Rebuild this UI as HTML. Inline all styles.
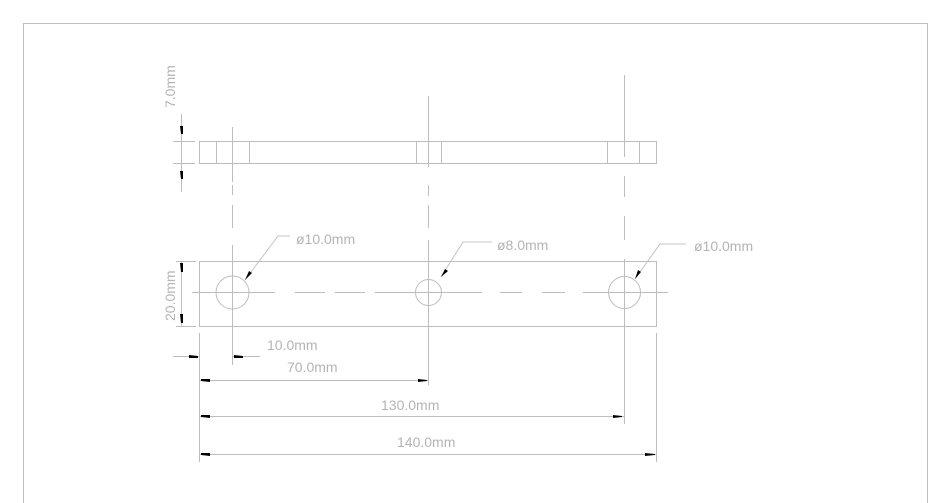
<!DOCTYPE html>
<html><head><meta charset="utf-8"><style>
html,body{margin:0;padding:0;background:#fff;width:929px;height:503px;overflow:hidden}
svg{display:block}
text{font-family:"Liberation Sans",sans-serif;font-size:14px;fill:#b4b4b4}
</style></head><body>
<svg width="929" height="503" viewBox="0 0 929 503" xmlns="http://www.w3.org/2000/svg">
<g fill="none" stroke="#bdbdbd" stroke-width="1">
<polyline points="23.5,510 23.5,23.5 927.5,23.5 927.5,510"/>
<rect x="199.5" y="141.5" width="457" height="22"/>
<line x1="216.5" y1="141" x2="216.5" y2="164"/><line x1="249.5" y1="141" x2="249.5" y2="164"/>
<line x1="416.5" y1="141" x2="416.5" y2="164"/><line x1="441.5" y1="141" x2="441.5" y2="164"/>
<line x1="607.5" y1="141" x2="607.5" y2="164"/><line x1="639.5" y1="141" x2="639.5" y2="164"/>
<line x1="232.5" y1="127" x2="232.5" y2="182"/>
<line x1="232.5" y1="205" x2="232.5" y2="228" /><line x1="232.5" y1="245" x2="232.5" y2="365"/>
<line x1="232.5" y1="185" x2="232.5" y2="195"/>
<line x1="428.5" y1="96" x2="428.5" y2="167"/>
<line x1="428.5" y1="185" x2="428.5" y2="196"/><line x1="428.5" y1="205" x2="428.5" y2="228"/><line x1="428.5" y1="240" x2="428.5" y2="385"/>
<line x1="624.5" y1="75" x2="624.5" y2="157"/>
<line x1="624.5" y1="176" x2="624.5" y2="197"/><line x1="624.5" y1="216" x2="624.5" y2="240"/><line x1="624.5" y1="259" x2="624.5" y2="424"/>
<rect x="199.5" y="261.5" width="457" height="65"/>
<circle cx="232.5" cy="292.5" r="16.5"/>
<circle cx="428.5" cy="292.5" r="13"/>
<circle cx="624.5" cy="292.5" r="16"/>
<line x1="192" y1="292.5" x2="275" y2="292.5"/>
<line x1="295" y1="292.5" x2="325" y2="292.5"/>
<line x1="335" y1="292.5" x2="365" y2="292.5"/>
<line x1="375" y1="292.5" x2="482" y2="292.5"/>
<line x1="500" y1="292.5" x2="522" y2="292.5"/>
<line x1="542" y1="292.5" x2="565" y2="292.5"/>
<line x1="583" y1="292.5" x2="668" y2="292.5"/>
<polyline points="245,280 278,236 290,236" stroke="#c4c4c4"/>
<polyline points="441,277 463,242 492,242" stroke="#c4c4c4"/>
<polyline points="635,279 660,244 686,244" stroke="#c4c4c4"/>
<line x1="181.5" y1="114" x2="181.5" y2="192"/>
<line x1="173" y1="141.5" x2="195" y2="141.5"/><line x1="173" y1="163.5" x2="195" y2="163.5"/>
<line x1="181.5" y1="261" x2="181.5" y2="327"/>
<line x1="176" y1="261.5" x2="196" y2="261.5"/><line x1="176" y1="326.5" x2="196" y2="326.5"/>
<line x1="199.5" y1="333" x2="199.5" y2="462"/>
<line x1="656.5" y1="333" x2="656.5" y2="462"/>
<line x1="173" y1="356.5" x2="199" y2="356.5"/><line x1="232" y1="356.5" x2="260" y2="356.5"/>
<line x1="199" y1="380.5" x2="428" y2="380.5"/>
<line x1="199" y1="416.5" x2="624" y2="416.5"/>
<line x1="199" y1="454.5" x2="657" y2="454.5"/>
</g>
<g fill="#000">
<polygon points="180,126 183,126 183,134 181,134"/>
<polygon points="180,171 183,171 183,179 181,179"/>
<polygon points="180,263 183,263 183,272 181,272"/>
<polygon points="180,314 183,314 183,323 181,323"/>
<polygon points="189,355 198,356 198,358 189,358"/>
<polygon points="234,355 243,356 243,358 234,358"/>
<polygon points="201,379 210,379 210,382 201,381"/>
<polygon points="418,379 427,380 427,381 418,382"/>
<polygon points="201,415 210,415 210,418 201,417"/>
<polygon points="613,415 622,416 622,417 613,418"/>
<polygon points="201,453 210,453 210,456 201,455"/>
<polygon points="645,453 655,454 655,455 645,456"/>
<polygon points="245,280 249,271 252,273"/>
<polygon points="441,277 445,269 448,271"/>
<polygon points="635,279 638,270 641,272"/>
</g>
<text x="296" y="244">ø10.0mm</text>
<text x="497" y="250">ø8.0mm</text>
<text x="694" y="251">ø10.0mm</text>
<text x="267" y="350">10.0mm</text>
<text x="287" y="372">70.0mm</text>
<text x="381" y="410">130.0mm</text>
<text x="397" y="447">140.0mm</text>
<text transform="translate(175,108) rotate(-90)">7.0mm</text>
<text transform="translate(175,321) rotate(-90)">20.0mm</text>
</svg>
</body></html>
